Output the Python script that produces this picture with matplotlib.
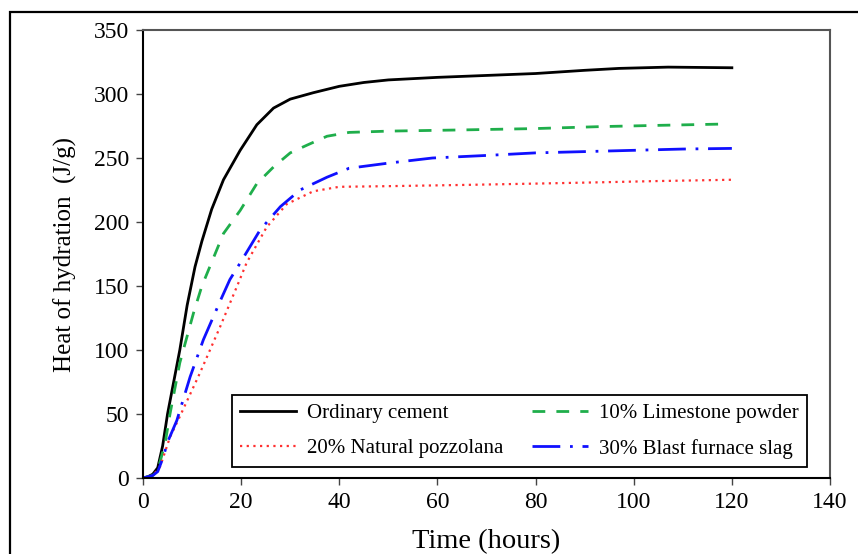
import matplotlib.pyplot as plt
from matplotlib.patches import Rectangle

# time (hours) / heat of hydration (J/g)
t_ordinary = [0, 1, 2, 3, 4, 5, 6, 7.5, 9, 10.6, 12, 14, 16.4, 19.8, 23.2, 26.6, 30, 34.7,
              40, 45, 50, 60, 70, 80, 90, 97, 107, 120]
q_ordinary = [0, 1, 3, 8, 25, 50, 70, 100, 135, 165, 185, 210, 233, 256, 276, 289, 296, 301,
              306, 309, 311, 313, 314.5, 316, 318.5, 320, 321, 320.5]

t_limestone = [0, 2, 3, 4, 4.5, 5.5, 7.5, 10.3, 12, 16.4, 19.8, 23.2, 26.6, 30, 33.4,
               37.5, 42, 50, 66, 80, 93, 105, 118]
q_limestone = [0, 2, 6, 20, 27, 50, 90, 129, 150, 191, 209, 230, 243, 254, 260,
               267, 270, 271, 272, 273, 274.5, 275.5, 276.5]

t_pozzolana = [0, 2, 3.5, 5.5, 7.5, 11.6, 15.7, 19.4, 21.1, 25.2, 29.3, 34.7, 40, 50,
               66, 80, 93, 105, 120]
q_pozzolana = [0, 2, 9, 32, 48, 82, 118, 152, 168, 196, 214, 224, 227.5, 228,
               229, 230, 231, 232, 233]

t_slag = [0, 2, 3, 4.1, 5, 6.9, 9.6, 12.3, 15.7, 17.7, 19.8, 23.9, 28, 32, 37.5, 42,
          50, 59, 70, 80, 90, 100, 110, 120]
q_slag = [0, 2, 5, 16, 28, 45, 79, 108, 138, 155, 168, 194, 212, 225, 235, 242,
          246, 250, 252, 254, 255, 256, 257, 257.5]

x_ticks = [0, 20, 40, 60, 80, 100, 120, 140]
y_ticks = [0, 50, 100, 150, 200, 250, 300, 350]

plt.rcParams['font.family'] = ['Liberation Serif', 'DejaVu Serif']

fig = plt.figure(figsize=(8.58, 5.54), dpi=100)
# outer frame of the original figure (cut off on the right and bottom)
top = 1 - 12 / 554
fig.patches.append(Rectangle((10 / 858, -0.2), 1.2, top + 0.2,
                             transform=fig.transFigure, fill=False,
                             edgecolor='black', linewidth=1.6))
ax = fig.add_axes([143 / 858, 1 - 478 / 554, 687 / 858, 448 / 554])

l_ord, = ax.plot(t_ordinary, q_ordinary, color='black', lw=2.0, label='Ordinary cement')
l_lim, = ax.plot(t_limestone, q_limestone, color='#1fae4b', lw=2.0,
                 linestyle=(0, (4.6, 4.0)), label='10% Limestone powder')
l_poz, = ax.plot(t_pozzolana, q_pozzolana, color='#ff3030', lw=1.6,
                 linestyle=(0, (1, 2.0)), label='20% Natural pozzolana')
l_slg, = ax.plot(t_slag, q_slag, color='#1010ff', lw=2.0,
                 linestyle=(0, (10, 3.5, 1, 3.5)), label='30% Blast furnace slag')

ax.set_xlim(0, 140)
ax.set_ylim(0, 350)
ax.set_xticks(x_ticks)
ax.set_yticks(y_ticks)
ax.tick_params(direction='out', length=5, width=1, color='#444444',
               labelsize=17, pad=5)
for side in ['top', 'right']:
    ax.spines[side].set_color('#555555')
    ax.spines[side].set_linewidth(1.5)
for side in ['left', 'bottom']:
    ax.spines[side].set_color('black')
    ax.spines[side].set_linewidth(1.5)

ax.set_xlabel('Time (hours)', fontsize=20.5, labelpad=12)
ax.set_ylabel('Heat of hydration  (J/g)', fontsize=18, labelpad=12)

leg = ax.legend([l_ord, l_poz, l_lim, l_slg],
                ['Ordinary cement', '20% Natural pozzolana',
                 '10% Limestone powder', '30% Blast furnace slag'],
                ncol=2, loc='lower right', bbox_to_anchor=(0.9665, 0.0246),
                borderaxespad=0, fontsize=15, handlelength=2.7, columnspacing=1.4,
                handletextpad=0.5, labelspacing=0.75, borderpad=0.4,
                fancybox=False, framealpha=1)
leg.get_frame().set_edgecolor('black')
leg.get_frame().set_linewidth(1.3)

fig.savefig('out.png', dpi=100)
